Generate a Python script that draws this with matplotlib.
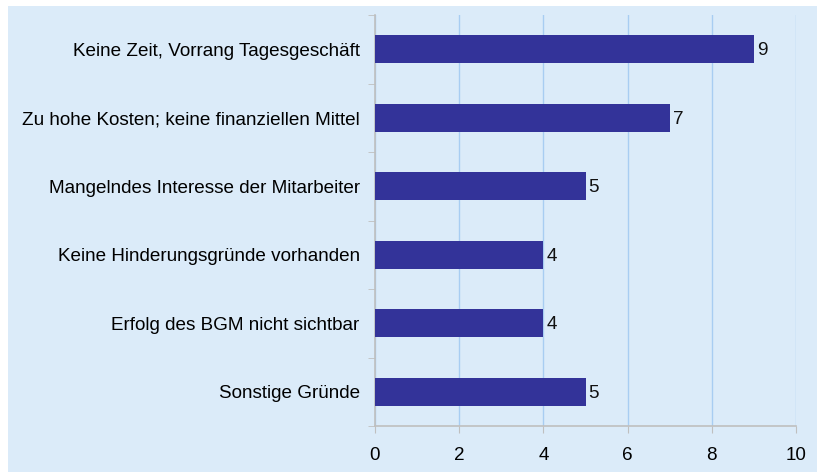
import matplotlib.pyplot as plt
from matplotlib.patches import Rectangle

# Hinderungsgründe (von oben nach unten)
gruende = ['Keine Zeit, Vorrang Tagesgeschäft',
           'Zu hohe Kosten; keine finanziellen Mittel',
           'Mangelndes Interesse der Mitarbeiter',
           'Keine Hinderungsgründe vorhanden',
           'Erfolg des BGM nicht sichtbar',
           'Sonstige Gründe']
anzahl = [9, 7, 5, 4, 4, 5]
x_ticks = [0, 2, 4, 6, 8, 10]

plt.rcParams['font.family'] = ['Liberation Sans', 'DejaVu Sans']
bg = '#DBEBF9'
fs = 13.6

fig = plt.figure(figsize=(8.17, 4.72), dpi=100, facecolor='white')
fig.patches.append(Rectangle((8 / 817, 0), 1, 1 - 6 / 472, transform=fig.transFigure,
                             facecolor=bg, edgecolor='none', zorder=-1))
ax = fig.add_axes([375 / 817, 46 / 472, 421 / 817, 411 / 472])
ax.set_facecolor(bg)

pos = list(range(len(gruende)))
ax.barh(pos, anzahl, height=0.41, color='#333399', zorder=3)
for p, v in zip(pos, anzahl):
    ax.text(v + 0.07, p + 0.02, str(v), va='center', ha='left', fontsize=fs, color='#111111')

ax.set_ylim(len(gruende) - 0.5, -0.5)
ax.set_xlim(0, 10)
ax.set_xticks(x_ticks)
ax.set_xticklabels([str(t) for t in x_ticks], fontsize=fs)
ax.set_yticks(pos)
ax.set_yticklabels(gruende, fontsize=fs)
ax.tick_params(axis='y', length=0, pad=11)
ax.set_yticks([p - 0.5 for p in pos] + [len(gruende) - 0.5], minor=True)
ax.tick_params(axis='y', which='minor', length=5, color='#BFBFBF')
ax.tick_params(axis='x', length=5, color='#BFBFBF', pad=10)

ax.grid(axis='x', color='#A8CDF2', linewidth=1, zorder=0)
for s in ['top', 'right']:
    ax.spines[s].set_visible(False)
for s in ['left', 'bottom']:
    ax.spines[s].set_color('#BFBFBF')
    ax.spines[s].set_linewidth(1.2)

fig.savefig('out.png', dpi=100, facecolor=fig.get_facecolor())
